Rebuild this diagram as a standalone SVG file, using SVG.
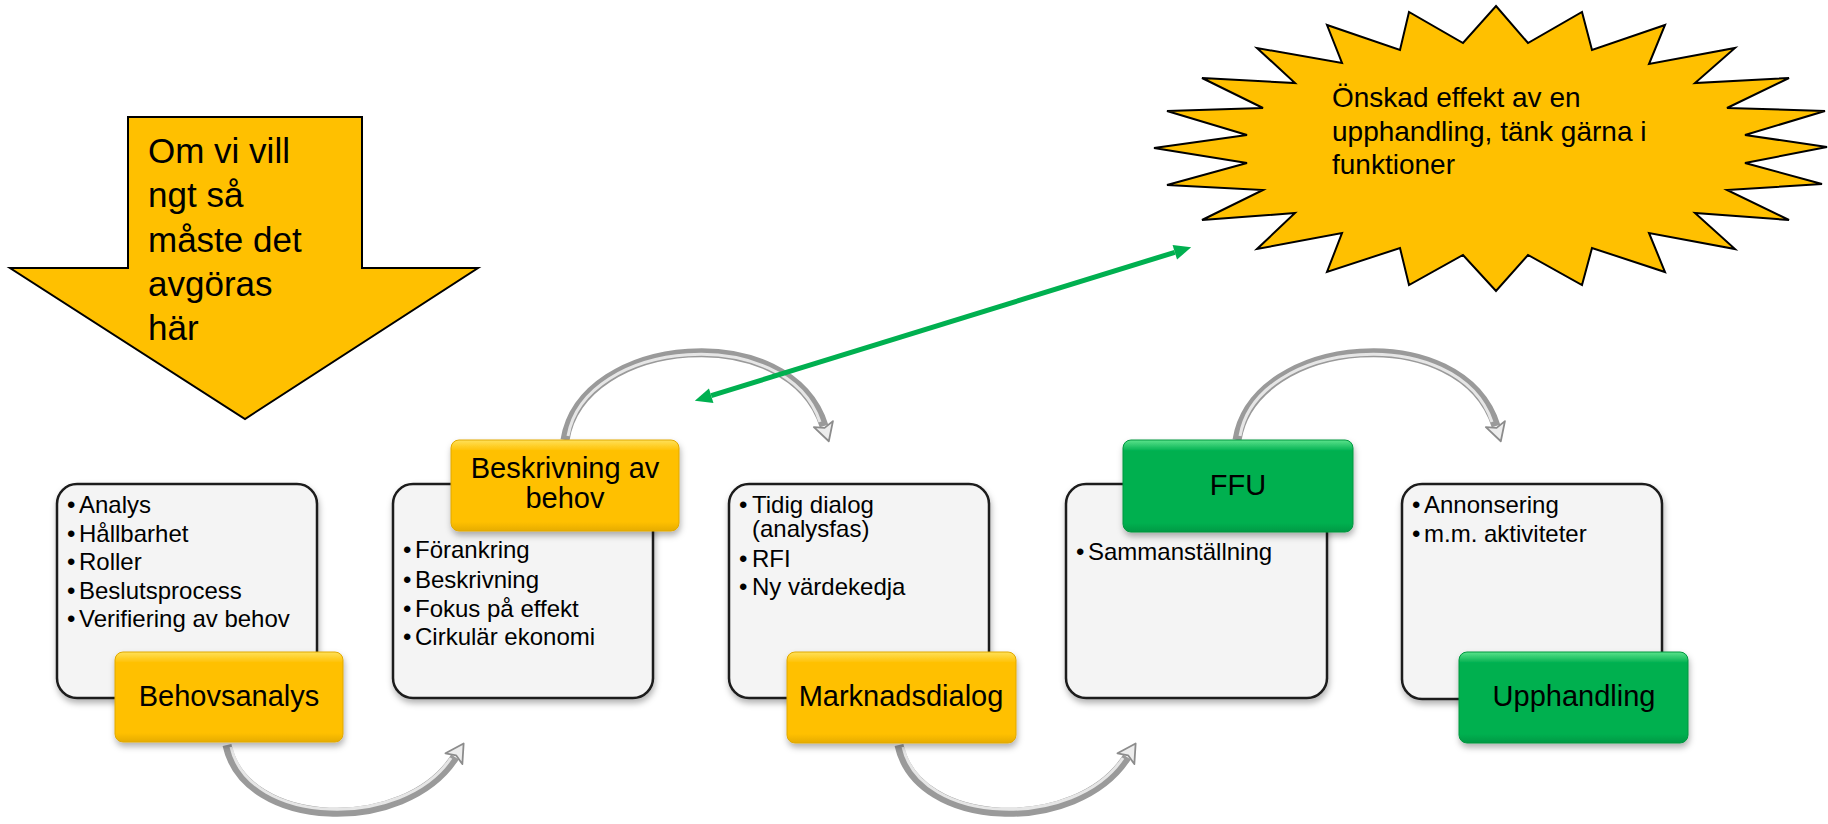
<svg xmlns="http://www.w3.org/2000/svg" width="1828" height="824" viewBox="0 0 1828 824">
<style>
text{font-family:"Liberation Sans",Arial,sans-serif;fill:#000}
.big{font-size:35px}
.star{font-size:28px}
.item{font-size:24px}
.lbl{font-size:29px;text-anchor:middle}
.card{fill:#F4F4F4;stroke:#1a1a1a;stroke-width:2.5}
.yl{fill:url(#gy);stroke:#E0A800;stroke-width:1}
.gl{fill:url(#gg);stroke:#00963F;stroke-width:1}
.tube{fill:none;stroke:#9A9A9A;stroke-width:9}
.tubehi{fill:none;stroke:#E6E6E6;stroke-width:3}
.shape{fill:#FFC000;stroke:#000;stroke-width:2}
</style>
<defs>
<linearGradient id="gy" x1="0" y1="0" x2="0" y2="1">
<stop offset="0" stop-color="#FFE15A"/><stop offset="0.12" stop-color="#FFC000"/><stop offset="0.9" stop-color="#FFC000"/><stop offset="1" stop-color="#E6AC00"/>
</linearGradient>
<linearGradient id="gg" x1="0" y1="0" x2="0" y2="1">
<stop offset="0" stop-color="#5CE38C"/><stop offset="0.12" stop-color="#00B050"/><stop offset="0.9" stop-color="#00B050"/><stop offset="1" stop-color="#009944"/>
</linearGradient>
<filter id="sh" x="-10%" y="-10%" width="130%" height="130%">
<feDropShadow dx="1" dy="4" stdDeviation="3" flood-color="#000" flood-opacity="0.3"/>
</filter>
<marker id="ga" markerUnits="userSpaceOnUse" markerWidth="20" markerHeight="20" refX="0" refY="0" viewBox="-1 -10 21 20" orient="auto-start-reverse" overflow="visible">
<path d="M0,-8 L18,0 L0,8 Z" fill="#00B050"/>
</marker>
<marker id="tip" markerUnits="userSpaceOnUse" markerWidth="20" markerHeight="24" refX="0" refY="0" viewBox="-2 -12 20 24" orient="auto" overflow="visible">
<path d="M-2,-10 L16,0 L-2,10 L2,0 Z" fill="#EDEDED" stroke="#8C8C8C" stroke-width="1.8" stroke-linejoin="round"/>
</marker>
</defs>

<g id="decision-arrow">
<path class="shape" d="M128,117 L362,117 L362,268 L478,268 L245,419 L10,268 L128,268 Z"/>
<text class="big" x="148" y="163">Om vi vill</text>
<text class="big" x="148" y="207">ngt så</text>
<text class="big" x="148" y="252">måste det</text>
<text class="big" x="148" y="296">avgöras</text>
<text class="big" x="148" y="340">här</text>
</g>

<g id="effect-star">
<polygon class="shape" points="1496,6 1528,43 1582,12 1592,50 1665,25 1649,64 1735,48 1695,83 1789,78 1727,108 1825,111 1745,135 1827,147 1745,163 1822,184 1727,190 1789,220 1695,213 1735,249 1649,233 1665,272 1592,248 1582,285 1528,255 1496,291 1463,255 1409,285 1400,248 1327,272 1342,233 1257,249 1295,213 1202,220 1263,190 1167,185 1247,163 1154,148 1247,135 1167,111 1263,108 1202,78 1295,83 1257,48 1342,63 1327,25 1400,50 1409,12 1463,43"/>
<text class="star" x="1332" y="107">Önskad effekt av en</text>
<text class="star" x="1332" y="141">upphandling, tänk gärna i</text>
<text class="star" x="1332" y="174">funktioner</text>
</g>

<g id="connectors">
<path class="tube" d="M565,440 C582,335 790,318 824,426" marker-end="url(#tip)"/>
<path class="tubehi" d="M568,436 C585,338 786,322 820,422"/>
<path class="tube" d="M1237,440 C1254,335 1462,318 1496,426" marker-end="url(#tip)"/>
<path class="tubehi" d="M1240,436 C1257,338 1458,322 1492,422"/>
<path class="tube" d="M227,745 C245,830 405,835 455,757" marker-end="url(#tip)"/>
<path class="tubehi" d="M231,747 C249,826 403,830 451,758"/>
<path class="tube" d="M899,745 C917,830 1077,835 1127,757" marker-end="url(#tip)"/>
<path class="tubehi" d="M903,747 C921,826 1075,830 1123,758"/>
</g>

<g id="behovsanalys">
<rect class="card" x="57" y="484" width="260" height="214" rx="20" filter="url(#sh)"/>
<text class="item"><tspan x="67" y="513">•</tspan><tspan x="79" y="513">Analys</tspan></text>
<text class="item"><tspan x="67" y="542">•</tspan><tspan x="79" y="542">Hållbarhet</tspan></text>
<text class="item"><tspan x="67" y="570">•</tspan><tspan x="79" y="570">Roller</tspan></text>
<text class="item"><tspan x="67" y="599">•</tspan><tspan x="79" y="599">Beslutsprocess</tspan></text>
<text class="item"><tspan x="67" y="627">•</tspan><tspan x="79" y="627">Verifiering av behov</tspan></text>
<rect class="yl" x="115" y="652" width="228" height="90" rx="8" filter="url(#sh)"/>
<text class="lbl" x="229" y="706">Behovsanalys</text>
</g>

<g id="beskrivning">
<rect class="card" x="393" y="484" width="260" height="214" rx="20" filter="url(#sh)"/>
<text class="item"><tspan x="403" y="558">•</tspan><tspan x="415" y="558">Förankring</tspan></text>
<text class="item"><tspan x="403" y="588">•</tspan><tspan x="415" y="588">Beskrivning</tspan></text>
<text class="item"><tspan x="403" y="617">•</tspan><tspan x="415" y="617">Fokus på effekt</tspan></text>
<text class="item"><tspan x="403" y="645">•</tspan><tspan x="415" y="645">Cirkulär ekonomi</tspan></text>
<rect class="yl" x="451" y="440" width="228" height="91" rx="8" filter="url(#sh)"/>
<text class="lbl" x="565" y="478">Beskrivning av</text>
<text class="lbl" x="565" y="508">behov</text>
</g>

<g id="marknadsdialog">
<rect class="card" x="729" y="484" width="260" height="214" rx="20" filter="url(#sh)"/>
<text class="item"><tspan x="739" y="513">•</tspan><tspan x="752" y="513">Tidig dialog</tspan></text>
<text class="item" x="752" y="537">(analysfas)</text>
<text class="item"><tspan x="739" y="567">•</tspan><tspan x="752" y="567">RFI</tspan></text>
<text class="item"><tspan x="739" y="595">•</tspan><tspan x="752" y="595">Ny värdekedja</tspan></text>
<rect class="yl" x="787" y="652" width="229" height="91" rx="8" filter="url(#sh)"/>
<text class="lbl" x="901" y="706">Marknadsdialog</text>
</g>

<g id="ffu">
<rect class="card" x="1066" y="484" width="261" height="214" rx="20" filter="url(#sh)"/>
<text class="item"><tspan x="1076" y="560">•</tspan><tspan x="1088" y="560">Sammanställning</tspan></text>
<rect class="gl" x="1123" y="440" width="230" height="92" rx="8" filter="url(#sh)"/>
<text class="lbl" x="1238" y="495">FFU</text>
</g>

<g id="upphandling">
<rect class="card" x="1402" y="484" width="260" height="215" rx="20" filter="url(#sh)"/>
<text class="item"><tspan x="1412" y="513">•</tspan><tspan x="1424" y="513">Annonsering</tspan></text>
<text class="item"><tspan x="1412" y="542">•</tspan><tspan x="1424" y="542">m.m. aktiviteter</tspan></text>
<rect class="gl" x="1459" y="652" width="229" height="91" rx="8" filter="url(#sh)"/>
<text class="lbl" x="1574" y="706">Upphandling</text>
</g>

<g id="green-link">
<path d="M711.2,395.7 L1174.8,252.3" fill="none" stroke="#00B050" stroke-width="5" marker-start="url(#ga)" marker-end="url(#ga)"/>
</g>
</svg>
